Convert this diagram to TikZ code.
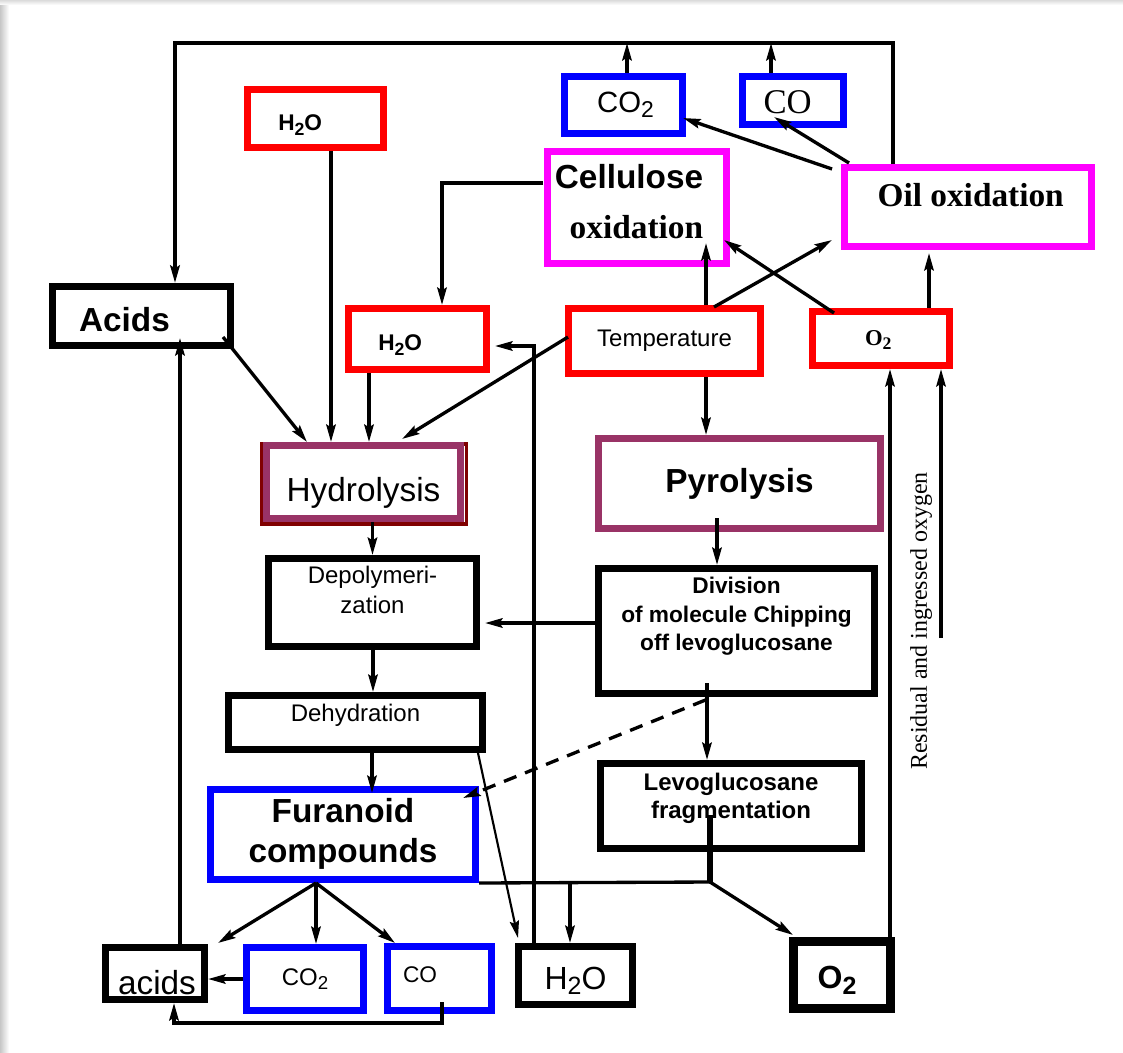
\documentclass[tikz,border=0pt]{standalone}
\usepackage{graphicx}
\usepackage{fontspec}
\setmainfont{Liberation Sans}
\newfontfamily\tms{Liberation Serif}
\usetikzlibrary{arrows.meta,calc}
% lowered, slightly reduced index digit
\newcommand{\low}[1]{\raisebox{-0.35ex}{\scalebox{0.78}{#1}}}
% move a label inside its box: #1 horizontal (half), #2 vertical
\newcommand{\mv}[3]{\raisebox{#2}[\height][\depth]{\hspace*{#1}\hspace*{#1}#3}}
\definecolor{cred}{HTML}{FF0000}
\definecolor{cblue}{HTML}{0000FF}
\definecolor{cmag}{HTML}{FF00FF}
\definecolor{cpurp}{HTML}{993366}
\definecolor{cdkred}{HTML}{800000}

\begin{document}
\begin{tikzpicture}[x=0.75pt,y=-0.75pt,
  bx/.style={draw=#1, line width=5.25pt, rectangle, inner sep=0pt, align=center},
  sz/.style 2 args={minimum width=#1*0.75pt, minimum height=#2*0.75pt},
  conn/.style={line width=2.5pt},
  arr/.style={conn, -{Stealth[length=13pt,width=7pt,inset=2pt]}},
]
\useasboundingbox (0,0) rectangle (1123,1052);
% sheet with a soft edge
\fill[white] (0,0) rectangle (1123,1052);
\shade[left color=black!22, right color=white] (0,0) rectangle (9,1052);
\shade[top color=black!14, bottom color=white] (0,0) rectangle (1123,5);

% ---------- boxes ----------
\node[bx=cred, sz={136}{58}, font=\fontsize{17}{20}\selectfont\bfseries] (h2oT) at (315.5,118.5) {\mv{-11.5pt}{-5pt}{H\low{2}O}};
\node[bx=cblue, sz={118}{57}, font=\fontsize{22}{26}\selectfont] (co2T) at (623.5,105) {\mv{1.5pt}{0pt}{CO\low{2}}};
\node[bx=cblue, sz={101}{48}, font=\tms\fontsize{26}{30}\selectfont] (coT) at (793,100.5) {\mv{-4pt}{-1pt}{CO}};
\node[bx=cmag, sz={179}{112}, font=\fontsize{25}{37}\selectfont\bfseries] (cell) at (637,207.5)
  {\mv{-6pt}{3pt}{\begin{tabular}{@{}r@{}}Cellulose\\{\tms oxidation}\end{tabular}}};
\node[bx=cmag, sz={247}{79}, font=\tms\fontsize{25}{30}\selectfont\bfseries] (oil) at (968,207) {\mv{2pt}{9pt}{Oil oxidation}};
\node[bx=black, sz={178}{59}, font=\fontsize{25}{30}\selectfont\bfseries] (acids) at (141.5,316) {\mv{-12.75pt}{-3pt}{Acids}};
\node[bx=cred, sz={138}{61}, font=\fontsize{17}{20}\selectfont\bfseries] (h2oM) at (417.5,339) {\mv{-13pt}{-4.5pt}{H\low{2}O}};
\node[bx=cred, sz={192}{65}, font=\fontsize{18}{22}\selectfont] (temp) at (664.5,341) {Temperature};
\node[bx=cred, sz={137}{54}, font=\tms\fontsize{17}{20}\selectfont\bfseries] (o2R) at (881,338.5) {\mv{-2pt}{-1pt}{O\low{2}}};

% shadow edge of the hydrolysis frame
\draw[cdkred, line width=2.6pt] (261.8,444) rectangle (466.5,524.2);
\node[bx=cpurp, sz={194}{73}, font=\fontsize{25}{30}\selectfont] (hyd) at (363.5,482) {\mv{0pt}{-8pt}{Hydrolysis}};
\node[bx=cpurp, sz={282}{90}, font=\fontsize{25}{30}\selectfont\bfseries] (pyr) at (739.5,483.5) {Pyrolysis};

\node[bx=black, sz={208}{88}, font=\fontsize{18}{22}\selectfont] (depol) at (372.5,602.5)
  {\mv{0pt}{7.5pt}{\begin{tabular}{@{}c@{}}Depolymeri-\\zation\end{tabular}}};
\node[bx=black, sz={276}{125}, font=\fontsize{17}{21.5}\selectfont\bfseries] (div) at (736.5,631)
  {\mv{0pt}{11pt}{\begin{tabular}{@{}c@{}}Division\\of molecule Chipping\\off levoglucosane\end{tabular}}};
\node[bx=black, sz={254}{54}, font=\fontsize{18}{22}\selectfont] (dehyd) at (355.5,722.5) {\mv{0pt}{5.5pt}{Dehydration}};
\node[bx=black, sz={261}{85}, font=\fontsize{18}{21}\selectfont\bfseries] (levo) at (731,806)
  {\mv{0pt}{5pt}{\begin{tabular}{@{}c@{}}Levoglucosane\\fragmentation\end{tabular}}};
\node[bx=cblue, sz={265}{90}, font=\fontsize{25}{30}\selectfont\bfseries] (furan) at (343,834.5)
  {\begin{tabular}{@{}c@{}}Furanoid\\compounds\end{tabular}};

\node[bx=black, sz={99}{52}, font=\fontsize{25}{30}\selectfont] (acidsB) at (155,973.5) {\mv{1.5pt}{-6.75pt}{acids}};
\node[bx=cblue, sz={117}{63}, font=\fontsize{18}{22}\selectfont] (co2B) at (305,979) {CO\low{2}};
\node[bx=cblue, sz={104}{64}, font=\fontsize{17}{20}\selectfont] (coB) at (439.5,978.5) {\mv{-14.6pt}{2.6pt}{CO}};
\node[bx=black, sz={114}{58}, font=\fontsize{24}{28}\selectfont] (h2oB) at (575.5,975.5) {\mv{0pt}{-4pt}{H\low{2}O}};
\node[bx=black, line width=6.75pt, sz={97}{67}, font=\fontsize{24}{28}\selectfont\bfseries] (o2B) at (842,975) {\mv{-3.75pt}{-4pt}{O\low{2}}};

\node[rotate=90, font=\tms\fontsize{18}{20}\selectfont] (resid) at (921,621) {Residual and ingressed oxygen};

% ---------- connectors ----------
% gas return line along the top
\coordinate (tl) at (175,43);
\coordinate (tr) at (893,43);
\draw[arr, line width=3pt] (tr |- oil.north) -- (tr) -- (tl) -- (tl |- acids.north);
\coordinate (c2u) at ($(co2T.north)+(3.5,0)$);
\draw[arr] (c2u) -- (c2u |- tl);
\coordinate (cou) at ($(coT.north)+(-22,0)$);
\draw[arr] (cou) -- (cou |- tl);

% oxidation products
\draw[arr] ($(oil.north west)+(-9,5)$) -- ($(co2T.east)+(-3,13)$);
\draw[arr] ($(oil.north west)+(8,-1)$) -- ($(coT.south)+(-19,-11)$);
\draw[arr] ($(cell.west)+(-1,-24.5)$) -| ($(h2oM.north)+(24.5,0)$);

% feeds into hydrolysis
\coordinate (w1) at ($(h2oT.south)+(15.5,0)$);
\draw[arr] (w1) -- (w1 |- hyd.north);
\coordinate (w2) at ($(h2oM.south)+(-48.5,0)$);
\draw[arr] (w2) -- (w2 |- hyd.north);
\draw[arr] ($(acids.south east)+(-11,-12)$) -- ($(hyd.north)+(-56.5,0)$);
\draw[arr] ($(temp.west)+(3,-4)$) -- ($(hyd.north)+(38.5,-3)$);

% temperature and oxygen
\coordinate (tc) at ($(temp.north)+(41.5,0)$);
\draw[arr] (tc) -- ($(tc |- cell.south)+(0,-24)$);
\draw[arr] (tc |- temp.south) -- (tc |- pyr.north);
\draw[arr] ($(temp.north)+(49.5,2)$) -- ($(oil.south west)+(-9,-10)$);
\draw[arr] ($(o2R.north west)+(25,5)$) -- ($(cell.south east)+(-6,-27)$);
\coordinate (ro) at ($(o2R.north)+(48,0)$);
\draw[arr] (ro) -- ($(ro |- oil.south)+(0,3)$);

% decomposition chains
\coordinate (pd) at ($(pyr.south)+(-22.5,-14)$);
\draw[arr] (pd) -- (pd |- div.north);
\draw[arr] (depol.north |- hyd.south) -- (depol.north);
\coordinate (dd) at ($(depol.south)+(0.5,0)$);
\draw[arr] (dd) -- (dd |- dehyd.north);
\coordinate (dv) at ($(div.west)+(0,-8)$);
\draw[arr] (dv) -- ($(dv -| depol.east)+(5,0)$);
\coordinate (df) at ($(dehyd.south)+(16.5,0)$);
\draw[arr] (df) -- ($(df |- furan.north)+(0,7)$);
\coordinate (dl) at ($(div.south)+(-29.5,-14)$);
\draw[arr] (dl) -- (dl |- levo.north);
\draw[arr, dash pattern=on 10pt off 7pt] ($(div.south)+(-31,3)$) -- ($(furan.north east)+(-16,12)$);
\draw[arr, line width=1.6pt] ($(dehyd.south east)+(-8,0)$) -- ($(h2oB.north west)+(3,-5)$);

% water return
\coordinate (vb) at ($(h2oB.north)+(-41.5,0)$);
\draw[arr] (vb) |- ($(h2oM.east)+(5,7)$);

% collector below the furanoid compounds
\coordinate (jn) at (710,882);
\draw[conn] (furan.south east) -- (jn);
\draw[line width=4pt] (jn) -- ($(levo.south)+(-21,-37)$);
\draw[arr] (jn) -- ($(o2B.north west)+(4,-2)$);
\coordinate (hb) at ($(h2oB.north)+(-5.5,0)$);
\draw[arr] (hb |- jn) -- (hb);

% furanoid products
\coordinate (fs) at ($(furan.south)+(-27,0)$);
\draw[arr] (fs) -- ($(acidsB.north east)+(10,-1)$);
\draw[arr] (fs) -- (fs |- co2B.north);
\draw[arr] (fs) -- ($(coB.north west)+(11,0)$);
\draw[arr] (co2B.west) -- (co2B.west -| acidsB.east);
\draw[arr] ($(coB.south)+(2.5,-12)$) -- ++(0,21) -| ($(acidsB.south)+(19,0)$);
\coordinate (au) at ($(acidsB.north)+(25,0)$);
\draw[arr] (au) -- ($(au |- acids.south)+(0,-11)$);

% oxygen returns
\coordinate (ou) at ($(o2B.north)+(48,0)$);
\draw[arr] (ou) -- (ou |- o2R.south);
\coordinate (rs) at (941,638);
\draw[arr] (rs) -- (rs |- o2R.south);
\end{tikzpicture}
\end{document}
